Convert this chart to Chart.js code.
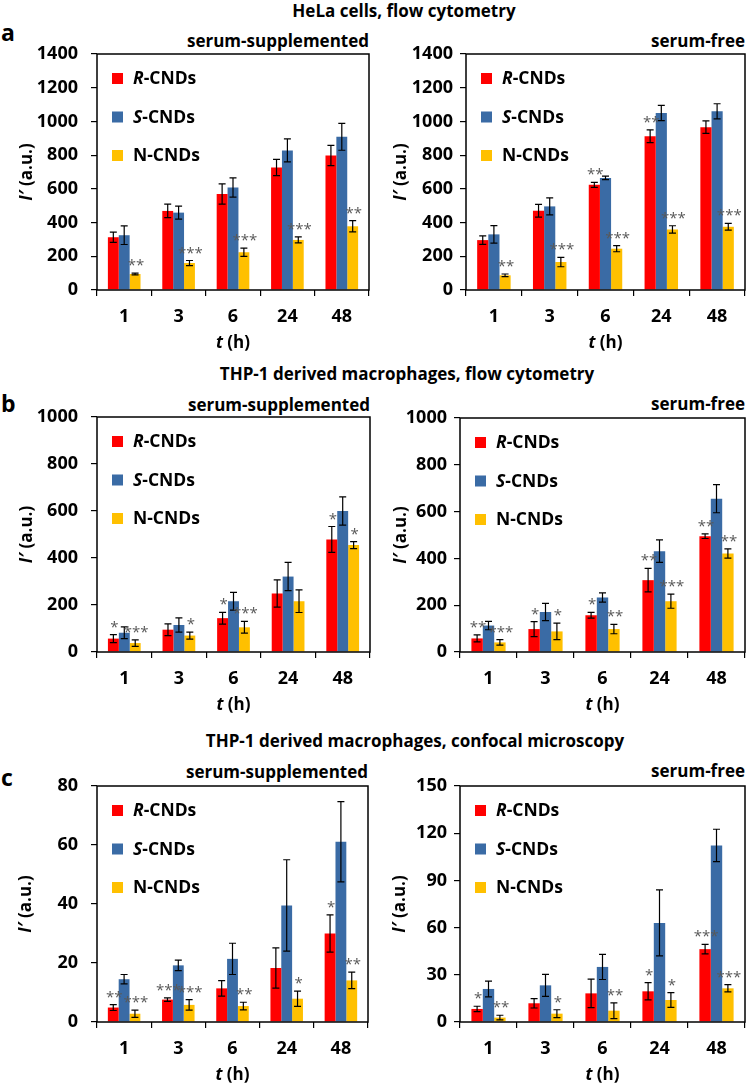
<!DOCTYPE html>
<html>
<head>
<meta charset="utf-8">
<script src="https://cdn.jsdelivr.net/npm/chart.js@4.4.0/dist/chart.umd.min.js"></script>
<style>
  body { margin: 0; background: #fff; width: 747px; height: 1087px; position: relative; overflow: hidden;
         font-family: "Open Sans", sans-serif; font-weight: bold; color: #000; }
  .lbl { position: absolute; white-space: nowrap; font-size: 17px; line-height: 1; transform: translateY(-50%); }
  .ctr { transform: translate(-50%, -50%); }
  .big { font-size: 23px; }
  canvas { position: absolute; }
</style>
</head>
<body>

<div class="lbl ctr" style="left:404px; top:10px;">HeLa cells, flow cytometry</div>
<div class="lbl big" style="left:1px; top:32px;">a</div>
<div class="lbl" style="right:378px; top:40px;">serum-supplemented</div>
<div class="lbl" style="right:2px; top:40px;">serum-free</div>

<div class="lbl ctr" style="left:407px; top:373px;">THP-1 derived macrophages, flow cytometry</div>
<div class="lbl big" style="left:1px; top:403px;">b</div>
<div class="lbl" style="right:377px; top:404px;">serum-supplemented</div>
<div class="lbl" style="right:2px; top:403px;">serum-free</div>

<div class="lbl ctr" style="left:415px; top:740px;">THP-1 derived macrophages, confocal microscopy</div>
<div class="lbl big" style="left:1px; top:777px;">c</div>
<div class="lbl" style="right:379px; top:771px;">serum-supplemented</div>
<div class="lbl" style="right:2px; top:770px;">serum-free</div>

<script>
// Datos
const timeLabels = ['1', '3', '6', '24', '48'];
const seriesLabels = ['R-CNDs', 'S-CNDs', 'N-CNDs'];
const seriesItalicPrefix = [true, true, false];
const seriesColors = ['#FF0000', '#3A6BA5', '#FFC000'];

// a - HeLa, citometría de flujo
const helaSupVals = [[313, 469, 570, 727, 798], [325, 459, 608, 828, 909], [95, 160, 224, 297, 378]];
const helaSupErrs = [[30, 40, 60, 48, 60], [55, 38, 57, 68, 80], [5, 15, 25, 18, 33]];
const helaSupSig  = [['', '', '', '', ''], ['', '', '', '', ''], ['**', '***', '***', '***', '**']];

const helaFreeVals = [[296, 470, 624, 912, 966], [330, 496, 665, 1050, 1060], [87, 166, 245, 359, 375]];
const helaFreeErrs = [[25, 38, 15, 38, 37], [52, 50, 10, 45, 45], [8, 28, 18, 22, 20]];
const helaFreeSig  = [['', '', '**', '**', ''], ['', '', '', '', ''], ['**', '***', '***', '***', '***']];

// b - macrófagos THP-1, citometría de flujo
const thpFlowSupVals = [[57, 95, 144, 249, 479], [82, 115, 216, 321, 600], [38, 70, 105, 216, 455]];
const thpFlowSupErrs = [[17, 25, 25, 58, 55], [25, 30, 38, 60, 60], [14, 15, 25, 48, 15]];
const thpFlowSupSig  = [['*', '', '*', '', '*'], ['', '', '', '', ''], ['***', '*', '***', '', '*']];

const thpFlowFreeVals = [[58, 98, 157, 307, 495], [113, 171, 233, 431, 655], [41, 88, 98, 217, 421]];
const thpFlowFreeErrs = [[15, 32, 12, 50, 10], [18, 37, 20, 48, 60], [12, 35, 20, 30, 20]];
const thpFlowFreeSig  = [['**', '*', '*', '**', '**'], ['', '', '', '', ''], ['***', '*', '**', '***', '**']];

// c - macrófagos THP-1, microscopía confocal
const thpConfSupVals = [[4.9, 7.6, 11.4, 18.3, 30.0], [14.5, 19.2, 21.4, 39.5, 61.1], [2.8, 5.8, 5.4, 7.9, 14.1]];
const thpConfSupErrs = [[1.0, 0.6, 2.6, 6.8, 6.3], [1.6, 1.8, 5.3, 15.5, 13.6], [1.2, 1.8, 1.3, 2.6, 2.8]];
const thpConfSupSig  = [['**', '***', '', '', '*'], ['', '', '', '', ''], ['***', '***', '**', '*', '**']];

const thpConfFreeVals = [[8.3, 11.9, 18.2, 19.5, 46.3], [21.0, 23.3, 35.0, 63.0, 112.2], [2.8, 5.3, 7.2, 14.0, 21.4]];
const thpConfFreeErrs = [[1.7, 3.0, 9.0, 5.5, 3.0], [5.0, 7.0, 8.0, 21.0, 10.3], [1.5, 2.5, 5.0, 4.7, 2.3]];
const thpConfFreeSig  = [['*', '', '', '*', '***'], ['', '', '', '', ''], ['**', '*', '**', '*', '***']];

const FONT = '"Open Sans", sans-serif';
const PAD_TOP = 30;   // margen superior del lienzo
const AXIS_W = 97;    // ancho fijo del eje y
const AXIS_H = 64;    // alto fijo del eje x

// Paneles: rectángulo del área de gráfico en coordenadas de página
const panels = [
    { l: 97,  t: 54,  r: 369, b: 290,  max: 1400, step: 200, vals: helaSupVals, errs: helaSupErrs, sig: helaSupSig, yTitleX: 27, tickPad: 13 },
    { l: 466, t: 54,  r: 745, b: 290,  max: 1400, step: 200, vals: helaFreeVals, errs: helaFreeErrs, sig: helaFreeSig, yTitleX: 401, tickPad: 7 },
    { l: 97,  t: 417, r: 370, b: 652,  max: 1000, step: 200, vals: thpFlowSupVals, errs: thpFlowSupErrs, sig: thpFlowSupSig, yTitleX: 27, tickPad: 13 },
    { l: 460, t: 418, r: 745, b: 652,  max: 1000, step: 200, vals: thpFlowFreeVals, errs: thpFlowFreeErrs, sig: thpFlowFreeSig, yTitleX: 401, tickPad: 7 },
    { l: 97,  t: 786, r: 368, b: 1022, max: 80,   step: 20,  vals: thpConfSupVals, errs: thpConfSupErrs, sig: thpConfSupSig, yTitleX: 26, tickPad: 13 },
    { l: 460, t: 786, r: 745, b: 1022, max: 150,  step: 30,  vals: thpConfFreeVals, errs: thpConfFreeErrs, sig: thpConfFreeSig, yTitleX: 400, tickPad: 7 }
];

// Texto con partes en cursiva
function richWidth(ctx, parts, size) {
    let w = 0;
    parts.forEach(p => {
        ctx.font = (p.it ? 'italic ' : '') + 'bold ' + size + 'px ' + FONT;
        w += ctx.measureText(p.t).width;
    });
    return w;
}
function drawRich(ctx, parts, x, y, size) {
    parts.forEach(p => {
        ctx.font = (p.it ? 'italic ' : '') + 'bold ' + size + 'px ' + FONT;
        ctx.fillText(p.t, x, y);
        x += ctx.measureText(p.t).width;
    });
}

// Plugin: barras de error, asteriscos, marco, leyenda y títulos de ejes
const panelDecor = {
    id: 'panelDecor',
    afterDatasetsDraw(chart) {
        const ctx = chart.ctx;
        const ys = chart.scales.y;
        ctx.save();
        chart.data.datasets.forEach((ds, i) => {
            const meta = chart.getDatasetMeta(i);
            meta.data.forEach((bar, j) => {
                const v = ds.data[j], e = ds.errors[j];
                const yT = ys.getPixelForValue(v + e);
                const yB = ys.getPixelForValue(Math.max(0, v - e));
                ctx.strokeStyle = '#000';
                ctx.lineWidth = 1.2;
                ctx.beginPath();
                ctx.moveTo(bar.x, yT); ctx.lineTo(bar.x, yB);
                ctx.moveTo(bar.x - 3.5, yT); ctx.lineTo(bar.x + 3.5, yT);
                ctx.moveTo(bar.x - 3.5, yB); ctx.lineTo(bar.x + 3.5, yB);
                ctx.stroke();
                const s = ds.sig[j];
                if (s) {
                    ctx.fillStyle = '#595959';
                    ctx.font = '15px ' + FONT;
                    ctx.textAlign = 'center';
                    ctx.textBaseline = 'alphabetic';
                    ctx.fillText(s, bar.x + 1, yT - 3);
                }
            });
        });
        ctx.restore();
    },
    afterDraw(chart, args, opts) {
        const ctx = chart.ctx;
        const a = chart.chartArea;
        ctx.save();
        // marco
        ctx.strokeStyle = '#000';
        ctx.lineWidth = 1.5;
        ctx.strokeRect(a.left, a.top, a.right - a.left, a.bottom - a.top);

        // leyenda
        ctx.textAlign = 'left';
        ctx.textBaseline = 'middle';
        const rows = [19, 57.5, 96];
        chart.data.datasets.forEach((ds, i) => {
            const y0 = a.top + rows[i];
            ctx.fillStyle = ds.backgroundColor;
            ctx.fillRect(a.left + 15, y0, 11, 11);
            ctx.fillStyle = '#000';
            const lbl = ds.label;
            drawRich(ctx, [{ t: lbl.slice(0, 1), it: seriesItalicPrefix[i] }, { t: lbl.slice(1), it: false }],
                a.left + 36, y0 + 6.5, 17.5);
        });

        // título eje x
        const xParts = [{ t: 't', it: true }, { t: ' (h)', it: false }];
        const xw = richWidth(ctx, xParts, 17);
        drawRich(ctx, xParts, (a.left + a.right) / 2 - xw / 2, a.bottom + 53, 17);

        // título eje y
        const yParts = [{ t: 'I\u2032', it: true }, { t: ' (a.u.)', it: false }];
        const yw = richWidth(ctx, yParts, 17);
        ctx.translate(opts.titleX, (a.top + a.bottom) / 2);
        ctx.rotate(-Math.PI / 2);
        drawRich(ctx, yParts, -yw / 2, 0, 17);
        ctx.restore();
    }
};

function makePanel(p) {
    const left = p.l - AXIS_W, top = p.t - PAD_TOP;
    const w = p.r - p.l + AXIS_W + 2, h = p.b - p.t + PAD_TOP + AXIS_H;
    const cv = document.createElement('canvas');
    cv.width = w; cv.height = h;
    cv.style.left = left + 'px'; cv.style.top = top + 'px';
    cv.style.width = w + 'px'; cv.style.height = h + 'px';
    document.body.appendChild(cv);

    const tickFont = { family: FONT, weight: 'bold', size: 18 };
    return new Chart(cv.getContext('2d'), {
        type: 'bar',
        data: {
            labels: timeLabels,
            datasets: p.vals.map((v, i) => ({
                label: seriesLabels[i],
                data: v,
                errors: p.errs[i],
                sig: p.sig[i],
                backgroundColor: seriesColors[i],
                borderWidth: 0,
                categoryPercentage: 0.6,
                barPercentage: 1.0
            }))
        },
        options: {
            responsive: false,
            animation: false,
            devicePixelRatio: 1,
            layout: { padding: { top: PAD_TOP, right: 2, left: 0, bottom: 0 } },
            plugins: {
                legend: { display: false },
                tooltip: { enabled: false },
                panelDecor: { titleX: p.yTitleX - left }
            },
            scales: {
                x: {
                    grid: { offset: true, drawOnChartArea: false, color: '#000', lineWidth: 1.2, tickLength: 6 },
                    border: { display: false },
                    ticks: { font: tickFont, color: '#000', padding: 10 },
                    afterFit(s) { s.height = AXIS_H; }
                },
                y: {
                    min: 0,
                    max: p.max,
                    grid: { drawOnChartArea: false, color: '#000', lineWidth: 1.2, tickLength: 6 },
                    border: { display: false },
                    ticks: { stepSize: p.step, font: tickFont, color: '#000', padding: p.tickPad,
                             callback: v => String(v) },
                    afterFit(s) { s.width = AXIS_W; }
                }
            }
        },
        plugins: [panelDecor]
    });
}

panels.forEach(makePanel);
</script>
</body>
</html>
